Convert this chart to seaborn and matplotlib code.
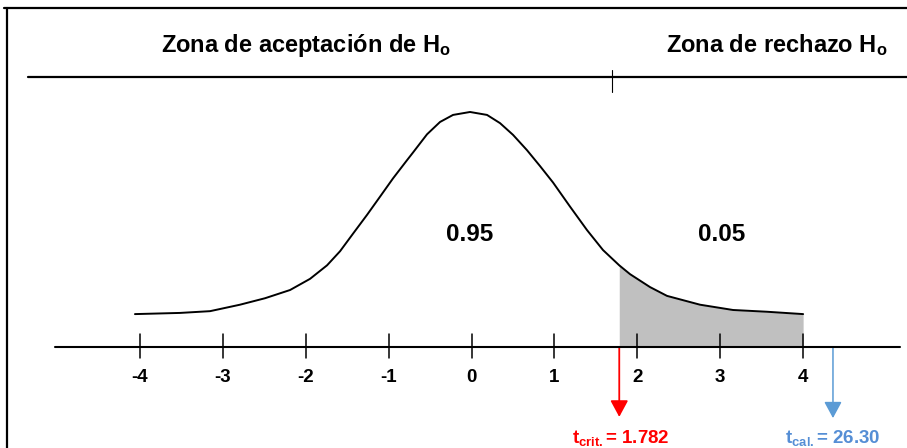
import numpy as np
import pandas as pd
import seaborn as sns
import matplotlib.pyplot as plt

# curve (t value, height)
t_vals = [-4.060, -3.516, -3.154, -2.793, -2.491, -2.189, -1.948, -1.743, -1.586,
          -1.429, -1.260, -1.103, -0.947, -0.778, -0.706, -0.537, -0.380, -0.223,
          -0.018, 0.187, 0.344, 0.501, 0.669, 0.826, 0.983, 1.188, 1.393, 1.586,
          1.782, 1.912, 2.153, 2.358, 2.756, 3.154, 3.564, 4.000]
dens = [0.056, 0.058, 0.061, 0.072, 0.083, 0.097, 0.116, 0.139, 0.163,
        0.193, 0.225, 0.256, 0.287, 0.318, 0.331, 0.362, 0.383, 0.395,
        0.400, 0.395, 0.381, 0.361, 0.335, 0.308, 0.280, 0.239, 0.199, 0.165,
        0.139, 0.124, 0.102, 0.087, 0.072, 0.063, 0.060, 0.056]
ticks = [-4, -3, -2, -1, 0, 1, 2, 3, 4]
t_crit = 1.782
t_cal_pos = 4.36   # where the t_cal arrow is drawn (26.30 is far off the scale)
area_acc = '0.95'
area_rej = '0.05'

curva = pd.DataFrame({'t': t_vals, 'f': dens})

sns.set_theme(style='white')
plt.rcParams['font.family'] = ['Liberation Sans', 'Arial', 'DejaVu Sans']
plt.rcParams['font.weight'] = 'bold'
plt.rcParams['text.color'] = 'black'
plt.rcParams['mathtext.fontset'] = 'custom'
plt.rcParams['mathtext.rm'] = 'Liberation Sans:bold'
plt.rcParams['mathtext.it'] = 'Liberation Sans:bold'
plt.rcParams['mathtext.bf'] = 'Liberation Sans:bold'

fig = plt.figure(figsize=(9.07, 4.48), dpi=100)
ax = fig.add_axes([0, 0, 1, 1])
ax.set_xlim(-5.688, 5.253)
ax.set_ylim(-0.1719, 0.5906)
ax.axis('off')

# sombra de la zona de rechazo
cola = curva[curva['t'] >= t_crit]
ax.fill_between(cola['t'], cola['f'], 0, color='#c0c0c0', lw=0, zorder=1)

sns.lineplot(data=curva, x='t', y='f', ax=ax, color='black', lw=1.4, zorder=3)

# eje horizontal y marcas
ax.plot([-5.024, 5.169], [0, 0], color='black', lw=1.5, zorder=4)
for tk in ticks:
    ax.plot([tk, tk], [0.022, -0.019], color='black', lw=1.1, zorder=4)
    ax.text(tk, -0.0596, str(tk), ha='center', va='baseline', fontsize=13.5,
            fontweight='bold')

# cabecera con zonas
ax.plot([-5.35, 5.253], [0.4596, 0.4596], color='black', lw=1.6)
ax.plot([1.695, 1.695], [0.4715, 0.434], color='black', lw=0.8)
ax.text(-1.996, 0.502, 'Zona de aceptación de H$_\\mathrm{o}$', ha='center',
        va='baseline', fontsize=17, fontweight='bold')
ax.text(3.685, 0.502, 'Zona de rechazo H$_\\mathrm{o}$', ha='center',
        va='baseline', fontsize=17, fontweight='bold')

# marco
ax.plot([-5.64, 5.253], [0.577, 0.577], color='black', lw=1.6)
ax.plot([-5.603, -5.603], [0.577, -0.1719], color='black', lw=1.6)

ax.text(-0.02, 0.181, area_acc, ha='center', va='baseline', fontsize=17.5,
        fontweight='bold')
ax.text(3.02, 0.181, area_rej, ha='center', va='baseline', fontsize=17.5,
        fontweight='bold')

# flechas
ax.annotate('', xy=(t_crit, -0.119), xytext=(t_crit, 0),
            arrowprops=dict(arrowstyle='-|>,head_length=1.0,head_width=0.54',
                            color='#ff0000', lw=1.3, shrinkA=0, shrinkB=0,
                            mutation_scale=10))
ax.annotate('', xy=(t_cal_pos, -0.121), xytext=(t_cal_pos, 0),
            arrowprops=dict(arrowstyle='-|>,head_length=1.0,head_width=0.54',
                            color='#5b9bd5', lw=1.1, shrinkA=0, shrinkB=0,
                            mutation_scale=10))
ax.text(1.80, -0.163, 't$_{\\mathrm{crit.}}$= ' + str(t_crit), ha='center',
        va='baseline', fontsize=13.5, fontweight='bold', color='#ff0000')
ax.text(4.36, -0.163, 't$_{\\mathrm{cal.}}$= 26.30', ha='center',
        va='baseline', fontsize=13.5, fontweight='bold', color='#558ed5')

fig.savefig('out.png', dpi=100)
